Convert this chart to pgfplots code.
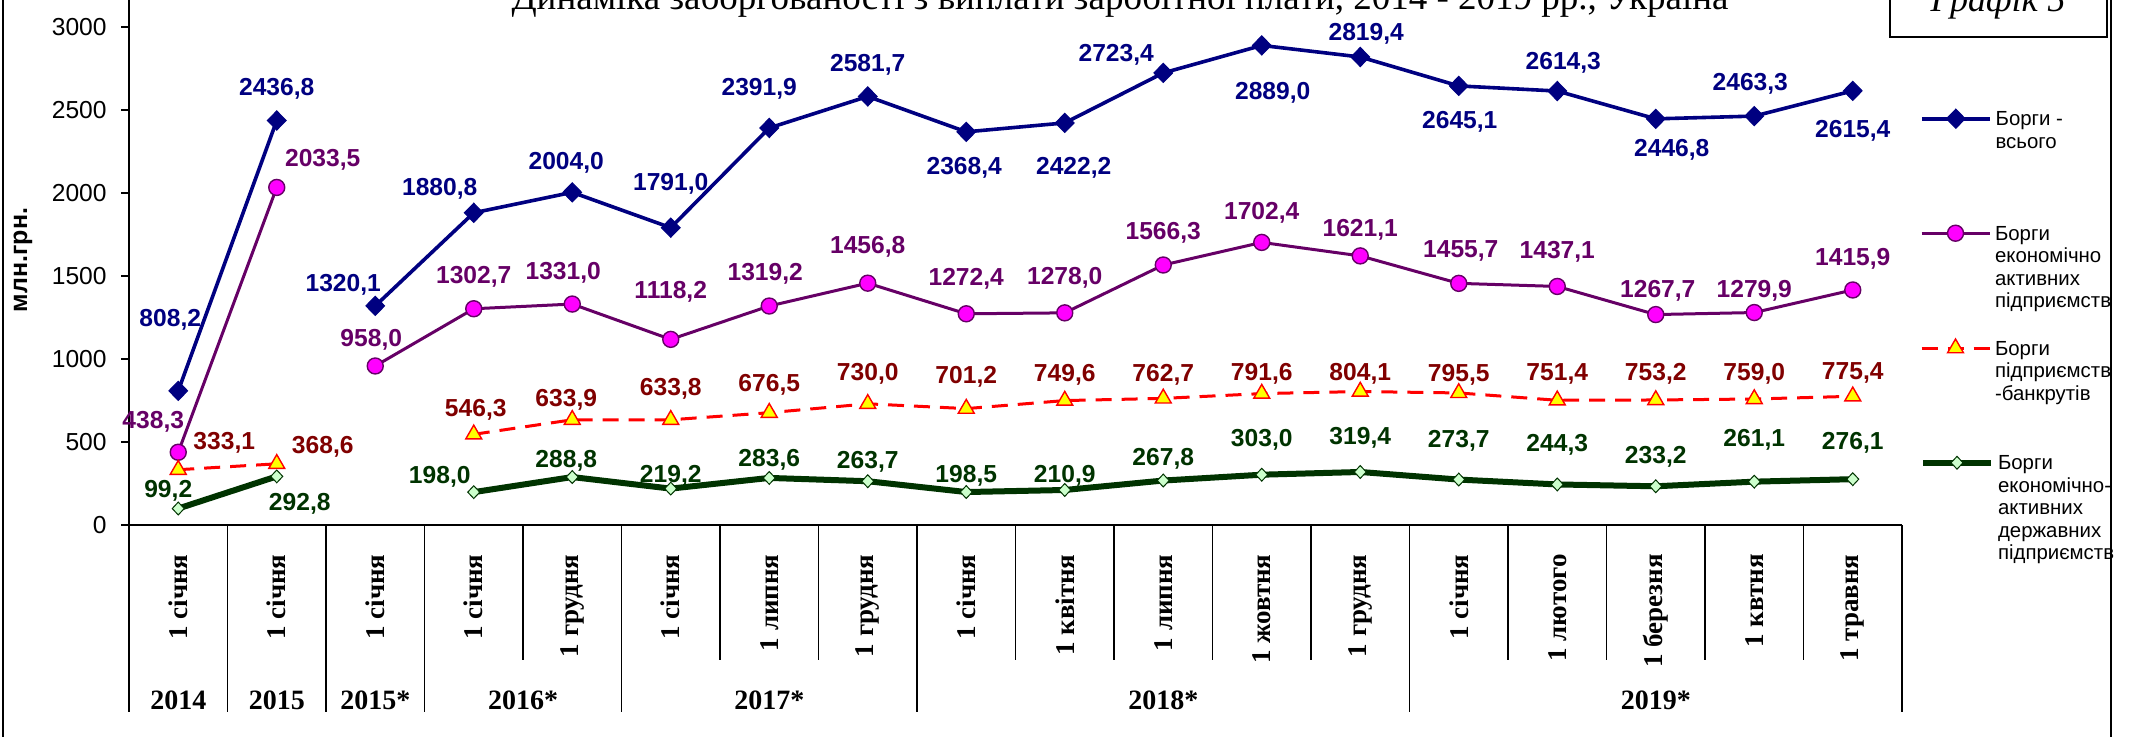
\documentclass[border=0pt]{standalone}
\usepackage{pgfplots}
\pgfplotsset{compat=1.18}
\usepackage{fontspec}
\setmainfont{Liberation Sans}
\newfontfamily\tnr{Liberation Serif}
\definecolor{cNavy}{HTML}{000080}
\definecolor{cPurp}{HTML}{660066}
\definecolor{cMag}{HTML}{FF00FF}
\definecolor{cRed}{HTML}{FF0000}
\definecolor{cDRed}{HTML}{800000}
\definecolor{cYel}{HTML}{FFFF00}
\definecolor{cGreen}{HTML}{003300}
\definecolor{cLGreen}{HTML}{CCFFCC}

\newcommand\lgt[1]{\begin{tabular}[t]{@{}l@{}}#1\end{tabular}}

\pgfplotsset{
  lbl/.style={
    nodes near coords={\pgfmathprintnumber[fixed,fixed zerofill,precision=1,use comma,1000 sep={},assume math mode=true]{\pgfplotspointmeta}},
    point meta=explicit,
    visualization depends on={value \thisrow{dx}\as\myDx},
    visualization depends on={value \thisrow{dy}\as\myDy},
    every node near coord/.append style={anchor=center, inner sep=0pt, xshift=\myDx bp, yshift=\myDy bp, font=\bfseries\fontsize{12.3bp}{13bp}\selectfont, text=#1},
  },
  sTotal/.style={color=cNavy, line width=1.8bp, mark=diamond*, mark size=4.8bp, mark options={fill=cNavy, draw=cNavy, line width=0.5bp, xscale=1.3}},
  sActive/.style={color=cPurp, line width=1.5bp, mark=*, mark size=4bp, mark options={fill=cMag, draw=cPurp, line width=0.7bp}},
  sBank/.style={color=cRed, line width=1.5bp, dash pattern=on 8bp off 5bp, mark=triangle*, mark size=4.6bp, mark options={solid, fill=cYel, draw=cRed, line width=0.7bp}},
  sState/.style={color=cGreen, line width=3bp, mark=diamond*, mark size=3.2bp, mark options={fill=cLGreen, draw=cGreen, line width=0.5bp, xscale=1.25}},
  legax/.style={
    at={(64.5bp,106bp)}, anchor=south west,
    scale only axis, width=886.5bp, height=263.1bp,
    xmin=0, xmax=1, ymin=0, ymax=1, hide axis, clip=false,
    legend image code/.code={\draw[mark repeat=2,mark phase=2,##1] plot coordinates {(0bp,3.5bp) (17bp,3.5bp) (34bp,3.5bp)};},
    legend style={at={(1.01014,#1)}, anchor=north west, draw=none, fill=none, inner sep=0pt, outer sep=0pt,
      font=\fontsize{10.2bp}{11.25bp}\selectfont,
      cells={anchor=base west, inner sep=0pt},
      /tikz/every odd column/.append style={column sep=0bp}},
  },
}

\begin{document}
\begin{tikzpicture}
\begin{axis}[
  at={(64.5bp,106bp)}, anchor=south west,
  scale only axis, width=886.5bp, height=263.1bp,
  xmin=-0.5, xmax=17.5, ymin=0, ymax=3170,
  axis x line*=bottom, axis y line*=left,
  x axis line style={line width=1.2bp},
  y axis line style={line width=1bp},
  clip=false,
  ytick={0,500,...,3000},
  tick align=outside,
  major tick length=4bp,
  ytick style={line width=1bp, black},
  xtick style={draw=none},
  yticklabel style={font=\fontsize{12.3bp}{12.5bp}\selectfont, inner sep=0pt, xshift=-7bp},
  /pgf/number format/assume math mode=true,
  /pgf/number format/1000 sep={},
  xtick={0,...,17},
  xticklabels={1 січня,1 січня,1 січня,1 січня,1 грудня,1 січня,1 липня,1 грудня,1 січня,1 квітня,1 липня,1 жовтня,1 грудня,1 січня,1 лютого,1 березня,1 квтня,1 травня},
  xticklabel style={rotate=90, anchor=east, inner sep=0pt, font=\tnr\bfseries\fontsize{13.5bp}{14bp}\selectfont},
  xticklabel shift=10.5bp,
]
% Борги - всього
\addplot[sTotal, lbl=cNavy, forget plot] table[x=x, y=y, meta=y] {
x y dx dy
0 808.2 -4 35.5
1 2436.8 0 16
};
\addplot[sTotal, lbl=cNavy, forget plot] table[x=x, y=y, meta=y] {
x y dx dy
2 1320.1 -16 10.5
3 1880.8 -17 12
4 2004.0 -3 15
5 1791.0 0 22
6 2391.9 -5 19.5
7 2581.7 0 16
8 2368.4 -1 -18
9 2422.2 4.5 -22.5
10 2723.4 -23.5 9
11 2889.0 5.5 -23.5
12 2819.4 3 11.5
13 2645.1 0.5 -18
14 2614.3 3 14
15 2446.8 8 -15.5
16 2463.3 -2 16
17 2615.4 0 -20
};
% Борги економічно активних підприємств
\addplot[sActive, lbl=cPurp, forget plot] table[x=x, y=y, meta=y] {
x y dx dy
0 438.3 -12.5 15
1 2033.5 23 14
};
\addplot[sActive, lbl=cPurp, forget plot] table[x=x, y=y, meta=y] {
x y dx dy
2 958.0 -2 13
3 1302.7 0 16
4 1331.0 -4.5 15.5
5 1118.2 0 24
6 1319.2 -2 16
7 1456.8 0 18
8 1272.4 0 17.5
9 1278.0 0 17.5
10 1566.3 0 16
11 1702.4 0 15
12 1621.1 0 13
13 1455.7 1 16
14 1437.1 0 17.5
15 1267.7 1 12
16 1279.9 0 11
17 1415.9 0 15.5
};
% Борги підприємств-банкрутів
\addplot[sBank, lbl=cDRed, forget plot] table[x=x, y=y, meta=y] {
x y dx dy
0 333.1 23 13.5
1 368.6 23 8.5
};
\addplot[sBank, lbl=cDRed, forget plot] table[x=x, y=y, meta=y] {
x y dx dy
3 546.3 1 12.5
4 633.9 -3 10
5 633.8 0 15.5
6 676.5 0 14
7 730.0 0 15
8 701.2 0 16
9 749.6 0 13
10 762.7 0 12
11 791.6 0 10
12 804.1 0 9
13 795.5 0 9
14 751.4 0 13
15 753.2 0 13
16 759.0 0 12.5
17 775.4 0 11.5
};
% Борги економічно-активних державних підприємств
\addplot[sState, lbl=cGreen, forget plot] table[x=x, y=y, meta=y] {
x y dx dy
0 99.2 -5 9
1 292.8 11.5 -13.5
};
\addplot[sState, lbl=cGreen, forget plot] table[x=x, y=y, meta=y] {
x y dx dy
3 198.0 -17 7.5
4 288.8 -3 8
5 219.2 0 6.5
6 283.6 0 9
7 263.7 0 9.5
8 198.5 0 8
9 210.9 0 7
10 267.8 0 11
11 303.0 0 17.5
12 319.4 0 17
13 273.7 0 19.5
14 244.3 0 20
15 233.2 0 14.5
16 261.1 0 21
17 276.1 0 18
};

\pgfplotsinvokeforeach{3.5,5.5,6.5,8.5,9.5,10.5,11.5,13.5,14.5,15.5,16.5}{
  \draw[line width=0.9bp] (axis cs:#1,0) -- ++(0bp,-67.5bp);
}
\pgfplotsinvokeforeach{-0.5,0.5,1.5,2.5,4.5,7.5,12.5,17.5}{
  \draw[line width=0.9bp] (axis cs:#1,0) -- ++(0bp,-93.5bp);
}
\tikzset{yr/.style={font=\tnr\bfseries\fontsize{14bp}{14bp}\selectfont, yshift=-87.5bp}}
\node[yr] at (axis cs:0,0) {2014};
\node[yr] at (axis cs:1,0) {2015};
\node[yr] at (axis cs:2,0) {2015*};
\node[yr] at (axis cs:3.5,0) {2016*};
\node[yr] at (axis cs:6,0) {2017*};
\node[yr] at (axis cs:10,0) {2018*};
\node[yr] at (axis cs:15,0) {2019*};
\end{axis}

\begin{axis}[legax=0.7963]
\addlegendimage{sTotal}\addlegendentry{\lgt{Борги -\\всього}}
\end{axis}
\begin{axis}[legax=0.5787]
\addlegendimage{sActive}\addlegendentry{\lgt{Борги\\економічно\\активних\\підприємств}}
\end{axis}
\begin{axis}[legax=0.3602]
\addlegendimage{sBank}\addlegendentry{\lgt{Борги\\підприємств\\-банкрутів}}
\end{axis}
\begin{axis}[legax=0.1425]
\addlegendimage{sState}\addlegendentry{\lgt{Борги\\економічно-\\активних\\державних\\підприємств}}
\end{axis}

\node[rotate=90, font=\bfseries\fontsize{12.5bp}{13bp}\selectfont] at (11.5bp,238.5bp) {млн.грн.};
\node[anchor=base, font=\tnr\fontsize{18.5bp}{18.5bp}\selectfont] at (560bp,363.5bp) {Динаміка заборгованості з виплати заробітної плати, 2014 - 2019 рр., Україна};
\draw[line width=1bp] (945bp,381bp) rectangle (1053.5bp,350bp);
\node[anchor=base, font=\tnr\itshape\fontsize{18bp}{18bp}\selectfont] at (999bp,362.5bp) {Графік 5};
\draw[line width=1bp] (1.5bp,-5bp) -- (1.5bp,380bp);
\draw[line width=1bp] (1055.5bp,-5bp) -- (1055.5bp,380bp);
\pgfresetboundingbox
\path[use as bounding box] (0,0) rectangle (1066bp,368.5bp);
\end{tikzpicture}
\end{document}
